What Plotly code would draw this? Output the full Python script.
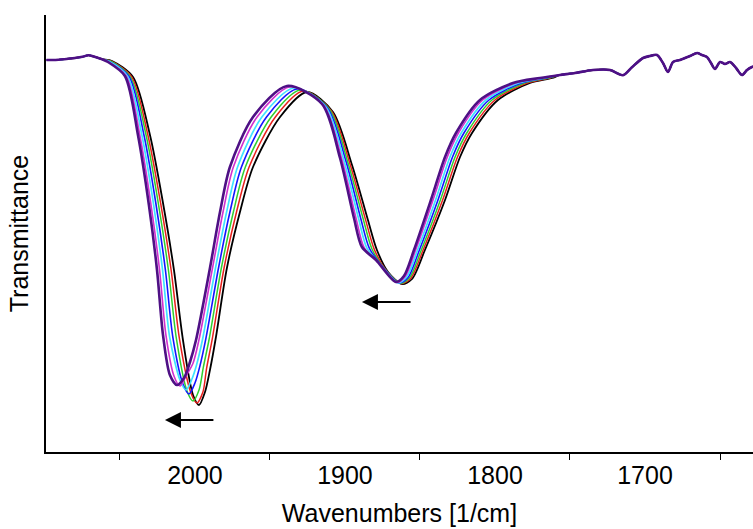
import plotly.graph_objects as go

# shared flat start and the noisy tail (curves coincide there)
head_wn = [2099, 2093, 2087, 2080, 2075, 2071, 2067, 2062]
head_T = [98.0, 98.0, 98.2, 98.5, 98.8, 99.2, 98.8, 98.2]

tail_wn = [1756.7, 1746.7, 1734.7, 1723.3, 1714.7, 1708.7, 1701.3, 1696.7, 1692.0, 1688.0,
           1684.7, 1681.3, 1676.7, 1670.0, 1665.3, 1662.0, 1658.7, 1656.0, 1653.3, 1650.0,
           1646.7, 1643.3, 1639.3, 1635.3, 1632.0, 1628.7, 1626.0]
tail_T = [94.25, 94.75, 95.5, 95.5, 94.2, 96.2, 98.5, 99.0, 99.25, 97.25,
          95.0, 97.5, 98.0, 99.0, 99.75, 99.25, 98.75, 97.25, 95.75, 97.5,
          97.0, 97.5, 96.0, 94.25, 95.5, 96.25, 96.5]

# the two carbonyl bands, one list per spectrum
black_wn = [2055.3, 2041.3, 2030.0, 2021.3, 2014.0, 2008.0, 2001.3, 1997.3, 1993.3, 1990.0, 1986.0,
            1978.7, 1970.0, 1961.3, 1943.3, 1925.3, 1908.0, 1895.3, 1884.7, 1878.7, 1871.3,
            1862.0, 1855.3, 1846.7, 1833.3, 1823.3, 1815.3, 1798.0, 1776.7, 1762.0]
black_T = [97.75, 93.75, 79.25, 62.25, 45.5, 28.0, 14.25, 11.75, 15.0, 20.5, 28.75,
           46.0, 60.0, 71.25, 83.75, 90.0, 85.0, 71.75, 58.0, 50.5, 45.0,
           42.0, 43.25, 50.5, 63.0, 73.75, 79.75, 88.0, 92.25, 93.5]

red_wn = [2055.8, 2042.2, 2031.4, 2022.9, 2015.9, 2010.3, 2002.7, 1998.7, 1994.7, 1992.3, 1988.3,
          1980.6, 1972.3, 1963.9, 1946.4, 1927.6, 1909.2, 1896.7, 1886.3, 1880.4, 1872.7,
          1862.7, 1856.2, 1847.9, 1834.9, 1825.0, 1817.1, 1800.0, 1778.6, 1763.4]
red_T = [97.7, 93.8, 79.25, 62.2, 45.5, 28.2, 14.75, 12.25, 15.0, 20.8, 28.6,
         46.0, 60.0, 71.25, 83.75, 90.25, 85.3, 72.05, 58.1, 50.6, 45.5,
         42.1, 43.4, 50.5, 63.0, 73.75, 79.75, 88.0, 92.25, 93.5]

green_wn = [2056.2, 2043.1, 2032.6, 2024.4, 2017.7, 2012.4, 2005.3, 2001.3, 1997.3, 1994.4, 1990.4,
            1982.4, 1974.4, 1966.4, 1949.2, 1929.7, 1910.4, 1898.0, 1887.8, 1882.0, 1874.0,
            1863.3, 1857.1, 1849.1, 1836.4, 1826.6, 1818.8, 1802.0, 1780.4, 1764.6]
green_T = [97.7, 93.8, 79.25, 62.1, 45.5, 28.4, 15.25, 12.75, 15.5, 21.2, 28.5,
           46.0, 60.0, 71.25, 83.75, 90.5, 85.7, 72.3, 58.2, 50.75, 46.0,
           42.2, 43.5, 50.5, 63.0, 73.75, 79.75, 88.0, 92.25, 93.5]

blue_wn = [2056.7, 2044.0, 2034.0, 2026.0, 2019.7, 2014.7, 2008.0, 2004.0, 2000.0, 1996.7, 1992.7,
           1984.3, 1976.7, 1969.0, 1952.3, 1932.0, 1911.7, 1899.3, 1889.4, 1883.7, 1875.3,
           1864.0, 1858.0, 1850.4, 1838.0, 1828.3, 1820.7, 1804.0, 1782.4, 1766.0]
blue_T = [97.6, 93.9, 79.25, 62.0, 45.5, 28.6, 17.0, 14.5, 17.25, 21.5, 28.4,
          46.0, 60.0, 71.25, 83.75, 90.75, 86.0, 72.6, 58.25, 50.9, 46.5,
          42.25, 43.6, 50.5, 63.0, 73.75, 79.75, 88.0, 92.25, 93.5]

cyan_wn = [2057.1, 2044.9, 2035.4, 2027.6, 2021.6, 2016.9, 2010.0, 2006.0, 2002.0, 1998.9, 1994.9,
           1986.3, 1978.9, 1971.6, 1955.4, 1934.3, 1912.9, 1900.7, 1890.9, 1885.4, 1876.7,
           1864.7, 1858.9, 1851.6, 1839.6, 1830.0, 1822.5, 1806.0, 1784.3, 1767.4]
cyan_T = [97.6, 93.9, 79.25, 61.9, 45.5, 28.8, 18.0, 15.5, 18.25, 21.8, 28.25,
          46.0, 60.0, 71.25, 83.75, 91.0, 86.3, 72.9, 58.3, 51.0, 47.0,
          42.3, 43.75, 50.5, 63.0, 73.75, 79.75, 88.0, 92.25, 93.5]

magenta_wn = [2057.6, 2045.9, 2036.8, 2029.3, 2023.6, 2019.3, 2014.0, 2010.0, 2006.0, 2001.3, 1997.3,
              1988.3, 1981.3, 1974.4, 1958.6, 1936.7, 1914.2, 1902.1, 1892.6, 1887.2, 1878.1,
              1865.4, 1859.9, 1852.9, 1841.3, 1831.8, 1824.4, 1808.2, 1786.3, 1768.8]
magenta_T = [97.5, 94.0, 79.25, 61.8, 45.5, 29.1, 19.0, 16.5, 19.0, 22.2, 28.1,
             46.0, 60.0, 71.25, 83.75, 91.3, 86.7, 73.2, 58.4, 51.1, 47.55,
             42.4, 43.9, 50.5, 63.0, 73.75, 79.75, 88.0, 92.25, 93.5]

purple_wn = [2058.0, 2046.7, 2038.0, 2030.7, 2025.3, 2021.3, 2016.7, 2012.0, 2007.3, 2003.3, 1999.3,
             1990.0, 1983.3, 1976.7, 1961.3, 1938.7, 1915.3, 1903.3, 1894.0, 1888.7, 1879.3,
             1866.0, 1860.7, 1854.0, 1842.7, 1833.3, 1826.0, 1810.0, 1788.0, 1770.0]
purple_T = [97.5, 94.0, 79.25, 61.75, 45.5, 29.25, 19.25, 16.75, 18.5, 22.5, 28.0,
            46.0, 60.0, 71.25, 83.75, 91.5, 87.0, 73.5, 58.5, 51.25, 48.0,
            42.5, 44.0, 50.5, 63.0, 73.75, 79.75, 88.0, 92.25, 93.5]

spectra = [
    ("black", black_wn, black_T, "#000000", 1.8),
    ("red", red_wn, red_T, "#e8201c", 1.5),
    ("green", green_wn, green_T, "#2fcf2f", 1.5),
    ("blue", blue_wn, blue_T, "#1414ff", 1.6),
    ("cyan", cyan_wn, cyan_T, "#3fe3ff", 1.7),
    ("magenta", magenta_wn, magenta_T, "#d030d0", 1.6),
    ("purple", purple_wn, purple_T, "#4e1085", 2.6),
]

fig = go.Figure()
for name, wn, T, col, w in spectra:
    fig.add_trace(go.Scatter(
        x=head_wn + wn + tail_wn, y=head_T + T + tail_T,
        mode="lines", name=name,
        line=dict(color=col, width=w, shape="spline", smoothing=0.8),
        showlegend=False, hoverinfo="skip"))

# arrows showing the shift of both bands
for tip, tail, yv in [(2020, 1986.7, 8.0), (1888.7, 1855.3, 37.5)]:
    fig.add_annotation(x=tip, y=yv, ax=tail, ay=yv, xref="x", yref="y",
                       axref="x", ayref="y", text="", showarrow=True,
                       arrowhead=2, arrowsize=1.6, arrowwidth=2, arrowcolor="black")

fig.update_layout(
    width=753, height=529,
    margin=dict(l=46, r=0, t=15, b=77),
    paper_bgcolor="white", plot_bgcolor="white",
    font=dict(family="Liberation Sans, Arial, sans-serif", color="black"),
)
fig.update_xaxes(
    range=[2099.3, 1628], showgrid=False, zeroline=False,
    showline=True, linecolor="black", linewidth=2,
    tickmode="array", tickvals=[2000, 1900, 1800, 1700], ticks="",
    ticklabelstandoff=0, tickfont=dict(size=25),
    minor=dict(tickmode="array", tickvals=[2050, 1950, 1850, 1750, 1650],
               ticks="outside", ticklen=6, tickwidth=1, tickcolor="black"),
    title=dict(text="Wavenumbers [1/cm]", font=dict(size=25), standoff=16),
)
fig.update_yaxes(
    range=[0, 109.25], showgrid=False, zeroline=False,
    showline=True, linecolor="black", linewidth=2,
    showticklabels=False, ticks="",
    title=dict(text="Transmittance", font=dict(size=25), standoff=8),
)

# page body has a default margin; drop it so the figure sits at the corner
fig.write_html("out.html", config={"displayModeBar": False},
               post_script="document.body.style.margin='0';")
